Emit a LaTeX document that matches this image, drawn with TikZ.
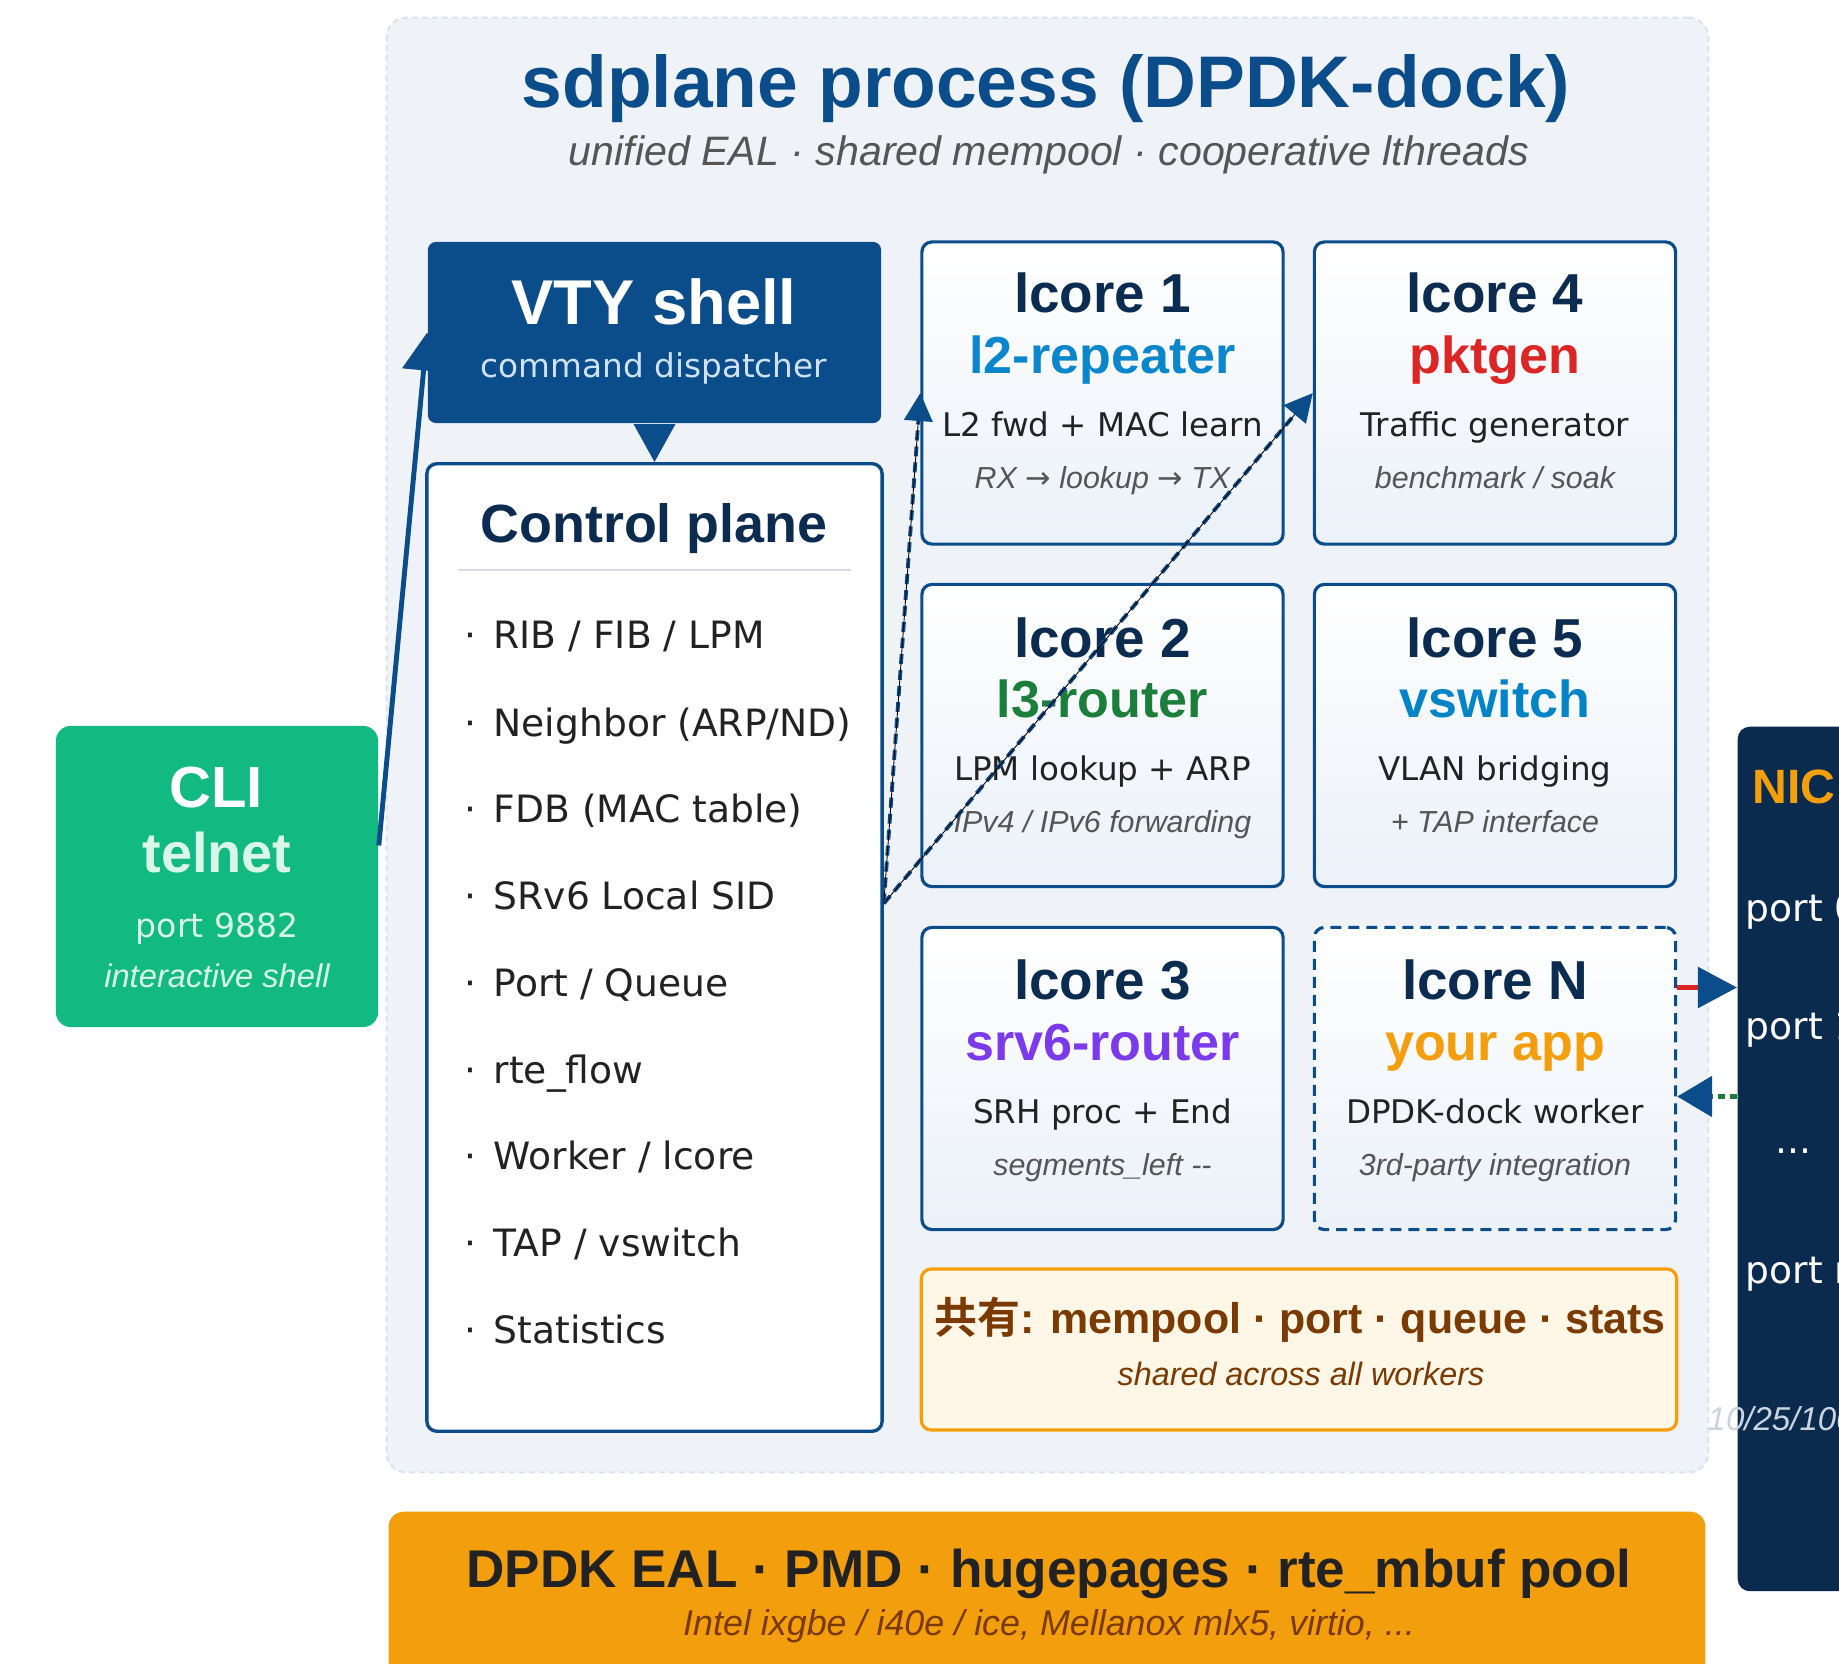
\documentclass[tikz,border=0pt]{standalone}
\usepackage{fontspec}
\setmainfont{DejaVu Sans}[BoldFont={Liberation Sans Bold},ItalicFont={Liberation Sans Italic}]
\newfontfamily\cjk{Noto Sans CJK JP}[BoldFont={Noto Sans CJK JP Bold}]
\usetikzlibrary{arrows.meta,calc,positioning}

\definecolor{dockblue}{HTML}{0B4C8A}
\definecolor{navy}{HTML}{0B2B50}
\definecolor{panelbg}{HTML}{EFF3F8}
\definecolor{panelrim}{HTML}{DCE3EC}
\definecolor{lcbot}{HTML}{EBF1F9}
\definecolor{sepgray}{HTML}{D5DEE8}
\definecolor{txtdark}{HTML}{222222}
\definecolor{txtgray}{HTML}{555555}
\definecolor{l2col}{HTML}{0A87CC}
\definecolor{l3col}{HTML}{1B7F3B}
\definecolor{pktcol}{HTML}{DC2626}
\definecolor{vswcol}{HTML}{0284C7}
\definecolor{srvcol}{HTML}{7C3AED}
\definecolor{appcol}{HTML}{F59E0B}
\definecolor{cligreen}{HTML}{12B981}
\definecolor{mint}{HTML}{D9F7E8}
\definecolor{nicnavy}{HTML}{0A2A4E}
\definecolor{nicgray}{HTML}{CBD5E1}
\definecolor{ealorange}{HTML}{F39E0D}
\definecolor{ealbrown}{HTML}{7A3A02}
\definecolor{sharedbg}{HTML}{FEF6E6}
\definecolor{vtysub}{HTML}{CFE2F5}

\tikzset{
  card/.style={draw=dockblue, line width=0.9pt, rounded corners=0.1cm,
    top color=white, bottom color=lcbot,
    minimum width=3.61cm, minimum height=3.02cm},
  lctitle/.style={anchor=base, inner sep=0, text=navy,
    font=\bfseries\fontsize{15.6}{18}\selectfont},
  lcapp/.style={anchor=base, inner sep=0,
    font=\bfseries\fontsize{14.8}{17}\selectfont},
  lcdesc/.style={anchor=base, inner sep=0, text=txtdark,
    font=\fontsize{9.25}{11}\selectfont},
  lcsub/.style={anchor=base, inner sep=0, text=txtgray,
    font=\itshape\fontsize{8.65}{10}\selectfont},
  item/.style={anchor=base west, inner sep=0, text=txtdark,
    font=\fontsize{10.7}{13}\selectfont},
  cfgflow/.style={dockblue, line width=1.1pt, dash pattern=on 0.1cm off 0.06cm,
    -{Triangle[length=0.28cm,width=0.28cm]},
    postaction={draw=black, line width=0.25pt, solid, -, shorten >=0.28cm}}
}

\begin{document}
\begin{tikzpicture}[x=0.01cm, y=-0.01cm]
    \useasboundingbox (0,0) rectangle (1839,1664);
    \clip (0,0) rectangle (1839,1664);
    \fill[white] (0,0) rectangle (1839,1664);

    % process container
    \node[draw=panelrim, fill=panelbg, line width=0.6pt, dash pattern=on 0.06cm off 0.04cm,
          rounded corners=0.2cm, minimum width=13.21cm, minimum height=14.54cm] (proc) at (1047.5,745) {};
    \node[anchor=base, inner sep=0, text=dockblue, font=\bfseries\fontsize{20.8}{24}\selectfont]
        (title) at (1046,108) {sdplane process (DPDK-dock)};
    \node[anchor=base, inner sep=0, text=txtgray, font=\itshape\fontsize{11.7}{14}\selectfont]
        (subtitle) at (1049,166) {unified EAL · shared mempool · cooperative lthreads};

    % EAL bar and NIC
    \node[fill=ealorange, rounded corners=0.15cm, minimum width=13.16cm, minimum height=2.2cm,
          anchor=north] (eal) at (1047,1511) {};
    \node[anchor=base, inner sep=0, text=txtdark, font=\bfseries\fontsize{15.1}{18}\selectfont]
        (ealtext) at (1049,1587) {DPDK EAL · PMD · hugepages · rte\_mbuf pool};
    \node[anchor=base, inner sep=0, text=ealbrown, font=\itshape\fontsize{10.2}{12}\selectfont]
        (ealsub) at (1049,1635) {Intel ixgbe / i40e / ice, Mellanox mlx5, virtio, ...};

    \node[fill=nicnavy, rounded corners=0.12cm, minimum width=2.6cm, minimum height=8.64cm,
          anchor=north west] (nic) at (1737,726) {};
    \node[anchor=base, inner sep=0, text=appcol, font=\bfseries\fontsize{13.7}{16}\selectfont]
        (nictitle) at (1794,803) {NIC};
    \node[item, text=white] (port0) at (1745,921) {port 0};
    \node[item, text=white] (port1) at (1745,1039) {port 1};
    \node[anchor=base, inner sep=0, text=white, font=\fontsize{10.7}{13}\selectfont]
        (portdots) at (1793,1153) {...};
    \node[item, text=white] (portn) at (1745,1283) {port n};
    \node[anchor=base, inner sep=0, text=nicgray, font=\itshape\fontsize{9.4}{11}\selectfont]
        (speed) at (1794,1430) {10/25/100G};

    % CLI
    \node[fill=cligreen, rounded corners=0.15cm, minimum width=3.22cm, minimum height=3.01cm] (cli) at (217,876.5) {};
    \node[anchor=base, inner sep=0, text=white, font=\bfseries\fontsize{16.5}{19}\selectfont]
        (clititle) at (216,807) {CLI};
    \node[anchor=base, inner sep=0, text=mint, font=\bfseries\fontsize{15.9}{19}\selectfont]
        (telnet) at (217,872) {telnet};
    \node[anchor=base, inner sep=0, text=mint, font=\fontsize{9.4}{11}\selectfont]
        (cliport) at (217,937) {port 9882};
    \node[anchor=base, inner sep=0, text=mint, font=\itshape\fontsize{9.3}{11}\selectfont]
        (clisub) at (217,987) {interactive shell};

    % VTY shell
    \node[fill=dockblue, rounded corners=0.08cm, minimum width=4.53cm, minimum height=1.81cm] (vty) at (654.5,332.5) {};
    \node[anchor=base, inner sep=0, text=white, font=\bfseries\fontsize{18}{21}\selectfont]
        (vtytitle) at (654,325) {VTY shell};
    \node[anchor=base, inner sep=0, text=vtysub, font=\fontsize{9.3}{11}\selectfont]
        (vtysub) at (654,378) {command dispatcher};

    % control plane
    \node[draw=dockblue, fill=white, line width=0.95pt, rounded corners=0.1cm,
          minimum width=4.55cm, minimum height=9.67cm] (ctl) at (654.5,947.5) {};
    \node[anchor=base, inner sep=0, text=navy, font=\bfseries\fontsize{15.3}{18}\selectfont]
        (ctltitle) at (654,542) {Control plane};
    \draw[sepgray, line width=0.85pt] (458,570) -- (851,570);
    \node[item] (it1) at (464,649) {·\hspace{0.17cm}RIB / FIB / LPM};
    \node[item] (it2) at (464,736) {·\hspace{0.17cm}Neighbor (ARP/ND)};
    \node[item] (it3) at (464,822) {·\hspace{0.17cm}FDB (MAC table)};
    \node[item] (it4) at (464,909) {·\hspace{0.17cm}SRv6 Local SID};
    \node[item] (it5) at (464,996) {·\hspace{0.17cm}Port / Queue};
    \node[item] (it6) at (464,1083) {·\hspace{0.17cm}rte\_flow};
    \node[item] (it7) at (464,1169) {·\hspace{0.17cm}Worker / lcore};
    \node[item] (it8) at (464,1256) {·\hspace{0.17cm}TAP / vswitch};
    \node[item] (it9) at (464,1343) {·\hspace{0.17cm}Statistics};

    % lcore workers
    \node[card] (lc1) at (1102.5,393) {};
    \node[lctitle] at (1102.5,313) {lcore 1};
    \node[lcapp, text=l2col] at (1102.5,374) {l2-repeater};
    \node[lcdesc] at (1102.5,437) {L2 fwd + MAC learn};
    \node[lcsub] at (1102.5,489) {RX {\upshape →} lookup {\upshape →} TX};

    \node[card] (lc4) at (1495,393) {};
    \node[lctitle] at (1495,313) {lcore 4};
    \node[lcapp, text=pktcol] at (1495,374) {pktgen};
    \node[lcdesc] at (1495,437) {Traffic generator};
    \node[lcsub] at (1495,489) {benchmark / soak};

    \node[card] (lc2) at (1102.5,735.5) {};
    \node[lctitle] at (1102.5,657) {lcore 2};
    \node[lcapp, text=l3col] at (1102.5,717) {l3-router};
    \node[lcdesc] at (1102.5,780) {LPM lookup + ARP};
    \node[lcsub] at (1102.5,832) {IPv4 / IPv6 forwarding};

    \node[card] (lc5) at (1495,735.5) {};
    \node[lctitle] at (1495,657) {lcore 5};
    \node[lcapp, text=vswcol] at (1495,717) {vswitch};
    \node[lcdesc] at (1495,780) {VLAN bridging};
    \node[lcsub] at (1495,832) {+ TAP interface};

    \node[card] (lc3) at (1102.5,1078.5) {};
    \node[lctitle] at (1102.5,999) {lcore 3};
    \node[lcapp, text=srvcol] at (1102.5,1060) {srv6-router};
    \node[lcdesc] at (1102.5,1123) {SRH proc + End};
    \node[lcsub] at (1102.5,1175) {segments\_left -{}-};

    \node[card, dash pattern=on 0.11cm off 0.07cm] (lcN) at (1495,1078.5) {};
    \node[lctitle] at (1495,999) {lcore N};
    \node[lcapp, text=appcol] at (1495,1060) {your app};
    \node[lcdesc] at (1495,1123) {DPDK-dock worker};
    \node[lcsub] at (1495,1175) {3rd-party integration};

    % shared resources
    \node[draw=appcol, fill=sharedbg, line width=0.9pt, rounded corners=0.1cm,
          minimum width=7.55cm, minimum height=1.61cm] (shared) at (1299,1349.5) {};
    \node[anchor=base, inner sep=0, text=ealbrown, font=\bfseries\fontsize{12.2}{15}\selectfont]
        (sharedtitle) at (1300,1333) {{\cjk 共有}: mempool · port · queue · stats};
    \node[anchor=base, inner sep=0, text=ealbrown, font=\itshape\fontsize{9.2}{11}\selectfont]
        (sharedsub) at (1301,1385) {shared across all workers};

    % connectors
    \coordinate (clitap) at ($(cli.east)+(0,-31)$);
    \draw[dockblue, line width=1.4pt, -{Triangle[length=0.38cm,width=0.42cm]}] (clitap) -- (vty.west);
    \draw[dockblue, line width=1.1pt, -{Triangle[length=0.38cm,width=0.41cm]}] (vty.south) -- (ctl.north);

    \coordinate (ctltap) at ($(ctl.east)+(0,-44)$);
    \draw[cfgflow] (ctltap) -- (lc1.west);
    \draw[cfgflow] (ctltap) -- (lc4.west);

    \coordinate (txtap) at ($(lcN.east)+(0,-91)$);
    \coordinate (rxtap) at ($(lcN.east)+(0,18)$);
    \draw[pktcol, line width=1.5pt, -{Triangle[length=0.39cm,width=0.4cm,color=dockblue]}] (txtap) -- (txtap -| nic.west);
    \draw[l3col, line width=1.6pt, dash pattern=on 0.07cm off 0.05cm,
          -{Triangle[length=0.35cm,width=0.4cm,color=dockblue]}] (rxtap -| nic.west) -- (rxtap);
\end{tikzpicture}
\end{document}
